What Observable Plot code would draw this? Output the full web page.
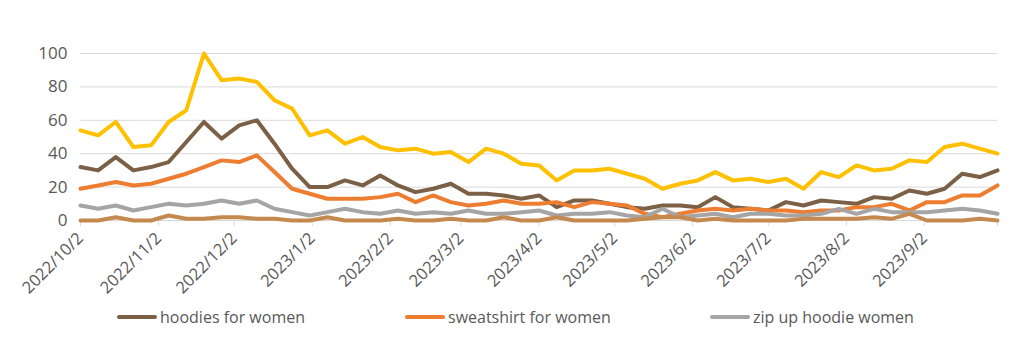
<!DOCTYPE html>
<html><head><meta charset="utf-8">
<script src="https://cdn.jsdelivr.net/npm/d3@7"></script>
<script src="https://cdn.jsdelivr.net/npm/@observablehq/plot@0.6"></script>
<style>
body{margin:0;background:#fff;font-family:"Open Sans",sans-serif;}
#chart{width:1024px;height:300px;}
#legend{position:relative;width:1024px;height:48px;}
.item{position:absolute;top:6px;display:flex;align-items:center;font-size:16px;color:#595959;white-space:nowrap;}
.item span.sw{display:inline-block;width:40px;height:4px;border-radius:2px;margin-right:3px;}
</style></head><body>
<div id="chart"></div>
<div id="legend"></div>
<script>
// weekly series, first week 2022/10/2, 53 weeks
const startDate = "2022-10-02";
const endDate = "2023-10-01";
const hoodiesForWomen = [32,30,38,30,32,35,47,59,49,57,60,46,31,20,20,24,21,27,21,17,19,22,16,16,15,13,15,8,12,12,10,8,7,9,9,8,14,8,7,6,11,9,12,11,10,14,13,18,16,19,28,26,30];
const sweatshirtForWomen = [19,21,23,21,22,25,28,32,36,35,39,29,19,16,13,13,13,14,16,11,15,11,9,10,12,10,10,11,8,11,10,9,4,2,4,6,7,6,7,6,6,5,6,6,8,8,10,6,11,11,15,15,21];
const zipUpHoodieWomen = [9,7,9,6,8,10,9,10,12,10,12,7,5,3,5,7,5,4,6,4,5,4,6,4,4,5,6,3,4,4,5,3,2,7,2,3,4,2,4,4,3,3,4,7,4,7,5,5,5,6,7,6,4];
const otherTermA = [54,51,59,44,45,59,66,100,84,85,83,72,67,51,54,46,50,44,42,43,40,41,35,43,40,34,33,24,30,30,31,28,25,19,22,24,29,24,25,23,25,19,29,26,33,30,31,36,35,44,46,43,40];
const otherTermB = [0,0,2,0,0,3,1,1,2,2,1,1,0,0,2,0,0,0,1,0,0,1,0,0,2,0,0,2,0,0,0,0,1,2,2,0,1,0,0,0,0,1,1,1,1,2,1,4,0,0,0,1,0];
const seriesNames = ["hoodies for women","sweatshirt for women","zip up hoodie women","other term A","other term B"];
const seriesValues = [hoodiesForWomen, sweatshirtForWomen, zipUpHoodieWomen, otherTermA, otherTermB];
const seriesColors = ["#7c6046","#ed7d31","#a5a5a5","#ffc000","#c4894e"];
const legendNames = ["hoodies for women","sweatshirt for women","zip up hoodie women"];
const tickLabels = ["2022/10/2","2022/11/2","2022/12/2","2023/1/2","2023/2/2","2023/3/2","2023/4/2","2023/5/2","2023/6/2","2023/7/2","2023/8/2","2023/9/2"];
const yTicks = [0,20,40,60,80,100];

const parseSlash = s => { const [y,m,d] = s.split("/").map(Number); return new Date(Date.UTC(y, m-1, d)); };
const start = new Date(startDate + "T00:00:00Z");
const end = new Date(endDate + "T00:00:00Z");
const weekDates = d3.utcWeek.every(1).range(start, d3.utcDay.offset(end, 1));

const rows = [];
seriesNames.forEach((name, k) => {
  seriesValues[k].forEach((v, i) => rows.push({series: name, date: weekDates[i], value: v}));
});
const tickDates = tickLabels.map(parseSlash);
const labelOf = new Map(tickDates.map((d,i)=>[+d, tickLabels[i]]));
const axisTicks = [...tickDates, end];
const colorOf = new Map(seriesNames.map((n,i)=>[n, seriesColors[i]]));

const chart = Plot.plot({
  width: 1024,
  height: 300,
  marginLeft: 80,
  marginRight: 27,
  marginTop: 53,
  marginBottom: 80,
  style: {fontFamily: '"Open Sans", sans-serif', color: "#595959", background: "#fff"},
  x: {type: "utc", domain: [start, end]},
  y: {domain: [0, 100]},
  marks: [
    Plot.gridY(yTicks, {stroke: "#d9d9d9", strokeOpacity: 1, strokeWidth: 1}),
    Plot.axisY({ticks: yTicks, tickSize: 0, tickPadding: 13, fontSize: 17, fill: "#595959", label: null}),
    Plot.axisX({ticks: axisTicks, tickSize: 6, tickRotate: -45, tickPadding: 9, fontSize: 16.5, fill: "#595959", stroke: "#d9d9d9", label: null,
      tickFormat: d => labelOf.get(+d) ?? ""}),
    ...seriesNames.map((n) => Plot.line(rows.filter(r => r.series === n), {
      x: "date", y: "value", stroke: colorOf.get(n), strokeWidth: 4, strokeLinejoin: "round", strokeLinecap: "round"
    }))
  ]
});
document.getElementById("chart").appendChild(chart);

const legendPos = [117, 405, 710];
const legend = document.getElementById("legend");
legendNames.forEach((n, i) => {
  const div = document.createElement("div");
  div.className = "item";
  div.style.left = legendPos[i] + "px";
  const sw = document.createElement("span");
  sw.className = "sw";
  sw.style.background = colorOf.get(n);
  div.appendChild(sw);
  const t = document.createElement("span");
  t.textContent = n;
  div.appendChild(t);
  legend.appendChild(div);
});
</script>
</body></html>
